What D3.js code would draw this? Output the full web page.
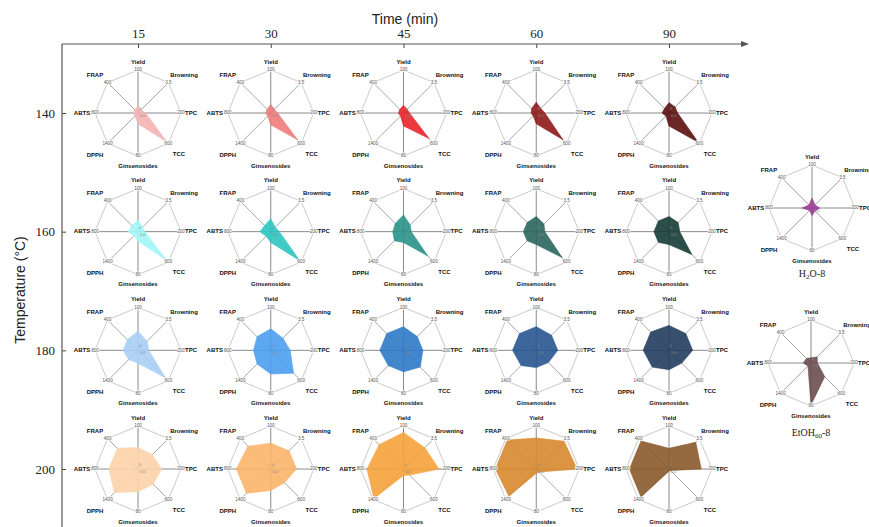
<!DOCTYPE html>
<html><head><meta charset="utf-8">
<script src="https://cdn.jsdelivr.net/npm/d3@7"></script>
<style>body{margin:0;background:#fff}svg{display:block}</style>
</head><body><svg id="c" width="869" height="527"></svg>
<script>
const axes = ["Yield","Browning","TPC","TCC","Ginsenosides","DPPH","ABTS","FRAP"];
const axisMax = [100, 3.5, 200, 600, 80, 1400, 800, 400];
const axisMaxLabels = ["100","3.5","200","600","80","1400","800","400"];
const times = ["15","30","45","60","90"];
const temperatures = ["140","160","180","200"];
// values per time (15,30,45,60,90), order of axes
const values140 = [
  [16, 0.35, 36, 570, 20, 140, 96, 40],
  [20, 0.42, 32, 528, 22, 140, 96, 48],
  [18, 0.42, 28, 504, 24, 140, 96, 48],
  [25, 0.52, 40, 528, 20, 140, 96, 60],
  [24, 0.70, 40, 576, 24, 140, 128, 60]
];
const values160 = [
  [27, 0.52, 32, 558, 18, 168, 184, 80],
  [30, 0.52, 40, 570, 20, 210, 200, 80],
  [39, 0.77, 36, 480, 20, 420, 200, 108],
  [35, 0.88, 40, 510, 24, 420, 240, 120],
  [35, 1.05, 50, 450, 24, 490, 280, 140]
];
const values180 = [
  [45, 1.05, 50, 540, 24, 420, 280, 140],
  [50, 1.40, 90, 450, 44, 630, 320, 180],
  [55, 1.58, 90, 330, 40, 700, 440, 220],
  [55, 1.75, 100, 240, 32, 700, 440, 220],
  [58, 1.93, 110, 252, 36, 770, 480, 240]
];
const values200 = [
  [50, 1.65, 110, 300, 42, 1080, 544, 272],
  [60, 2.10, 120, 270, 40, 1120, 640, 300],
  [85, 2.45, 165, 120, 12, 1360, 680, 320],
  [72, 3.20, 190, 60, 8, 1260, 760, 380],
  [48, 3.08, 150, 30, 4, 1290, 736, 368]
];
const valuesH2O8 = [23, 0.35, 36, 60, 14, 112, 184, 40];
const valuesEtOH8 = [12, 0.70, 30, 270, 78, 140, 144, 60];

const colors140 = ["#f5b5b5","#ef7c7c","#e9262b","#8e1b1b","#5c0f10"];
const colors160 = ["#a3f7f7","#2ec6c2","#2a9488","#2b665f","#163c36"];
const colors180 = ["#a9cff5","#4b9ef0","#2e79c7","#285590","#243c5e"];
const colors200 = ["#fdd3a8","#fbb56b","#f5a23c","#d78a2e","#8b5a2b"];
const colorH2O = "#9b3a94", colorEtOH = "#6b4c4f";

const svg = d3.select("#c");
svg.append("rect").attr("width",869).attr("height",527).attr("fill","#fff");

const R = 43;
const xScale = d3.scalePoint().domain(times).range([138, 669]);
const yScale = d3.scalePoint().domain(temperatures).range([113, 469]);
const rScales = axisMax.map(m => d3.scaleLinear().domain([0, m]).range([0, R]));
const ang = i => i * 2 * Math.PI / axes.length;

// Axes
const axTop = svg.append("g").attr("transform","translate(0,44)")
  .call(d3.axisTop(xScale).tickSizeInner(-4).tickSizeOuter(0).tickPadding(6));
axTop.select(".domain").remove();
axTop.selectAll("line").attr("stroke","#444");
axTop.selectAll("text").attr("font-family","'Liberation Serif','Times New Roman',serif").attr("font-size",13).attr("fill","#222");
svg.append("line").attr("x1",62).attr("x2",745).attr("y1",44).attr("y2",44).attr("stroke","#555").attr("stroke-width",1.2);
svg.append("path").attr("d","M749,44 L741,41 L741,47 Z").attr("fill","#555");

const axLeft = svg.append("g").attr("transform","translate(62,0)")
  .call(d3.axisLeft(yScale).tickSizeInner(-4).tickSizeOuter(0).tickPadding(7));
axLeft.select(".domain").remove();
axLeft.selectAll("line").attr("stroke","#444");
axLeft.selectAll("text").attr("font-family","'Liberation Serif','Times New Roman',serif").attr("font-size",13).attr("fill","#222");
svg.append("line").attr("x1",62).attr("x2",62).attr("y1",44).attr("y2",527).attr("stroke","#555").attr("stroke-width",1.2);

svg.append("text").attr("x",405).attr("y",24).attr("text-anchor","middle")
  .attr("font-family","'Liberation Sans',Arial,sans-serif").attr("font-size",14).attr("fill","#222").text("Time (min)");
svg.append("text").attr("transform","translate(25,290) rotate(-90)").attr("text-anchor","middle")
  .attr("font-family","'Liberation Sans',Arial,sans-serif").attr("font-size",14).attr("fill","#222").text("Temperature (°C)");

const labelOff = [[0,-51],[46,-38],[53,0],[41,41],[0,53],[-43,42],[-56,0],[-43,-38]];
const radial = d3.lineRadial().angle((d,i)=>ang(i)).radius((d,i)=>rScales[i](d)).curve(d3.curveLinearClosed);

function radar(cx, cy, vals, color){
  const g = svg.append("g").attr("transform",`translate(${cx},${cy})`);
  const outer = axes.map((a,i)=>[R*Math.sin(ang(i)), -R*Math.cos(ang(i))]);
  g.append("path").attr("d","M"+outer.map(p=>p.join(",")).join("L")+"Z")
    .attr("fill","none").attr("stroke","#c4c4c4").attr("stroke-width",0.9);
  g.selectAll(".spoke").data(outer).join("line")
    .attr("x1",0).attr("y1",0).attr("x2",d=>d[0]).attr("y2",d=>d[1])
    .attr("stroke",(d,i)=> (i%2===0)?"#8a8a8a":"#a8a8a8").attr("stroke-width",1);
  g.append("path").attr("d",radial(vals)).attr("fill",color).attr("fill-opacity",0.9)
    .attr("stroke",color).attr("stroke-width",0.6);
  g.append("text").attr("x",1).attr("y",-3).attr("font-size",4).attr("fill","#888")
    .attr("font-family","'Liberation Sans',Arial,sans-serif").text("0");
  g.append("text").attr("x",2).attr("y",4).attr("font-size",4).attr("fill","#888")
    .attr("font-family","'Liberation Sans',Arial,sans-serif").text("0.0");
  g.selectAll(".mx").data(outer).join("text")
    .attr("x",d=>d[0]).attr("y",d=>d[1]).attr("text-anchor","middle").attr("dominant-baseline","middle")
    .attr("font-size",4.6).attr("fill","#555").attr("font-family","'Liberation Sans',Arial,sans-serif")
    .attr("stroke","#fff").attr("stroke-width",1.4).attr("paint-order","stroke")
    .text((d,i)=>axisMaxLabels[i]);
  g.selectAll(".lab").data(axes).join("text")
    .attr("x",(d,i)=>labelOff[i][0]).attr("y",(d,i)=>labelOff[i][1])
    .attr("text-anchor","middle").attr("dominant-baseline","middle")
    .attr("font-family","'Liberation Sans',Arial,sans-serif").attr("font-weight","bold")
    .attr("font-size",6).attr("fill","#111").text(d=>d);
}

const rows = [values140, values160, values180, values200];
const cols = [colors140, colors160, colors180, colors200];
temperatures.forEach((t,ri)=>{
  times.forEach((tm,ci)=>{
    radar(xScale(tm), yScale(t), rows[ri][ci], cols[ri][ci]);
  });
});
radar(812, 208, valuesH2O8, colorH2O);
radar(811, 363, valuesEtOH8, colorEtOH);

const serif = "'Liberation Serif','Times New Roman',serif";
const l1 = svg.append("text").attr("x",812).attr("y",277).attr("text-anchor","middle")
  .attr("font-family",serif).attr("font-size",10).attr("fill","#222");
l1.append("tspan").text("H");
l1.append("tspan").attr("font-size",7).attr("dy",2).text("2");
l1.append("tspan").attr("dy",-2).text("O-8");
const l2 = svg.append("text").attr("x",811).attr("y",436).attr("text-anchor","middle")
  .attr("font-family",serif).attr("font-size",10).attr("fill","#222");
l2.append("tspan").text("EtOH");
l2.append("tspan").attr("font-size",7).attr("dy",2).text("60");
l2.append("tspan").attr("dy",-2).text("-8");
</script></body></html>
